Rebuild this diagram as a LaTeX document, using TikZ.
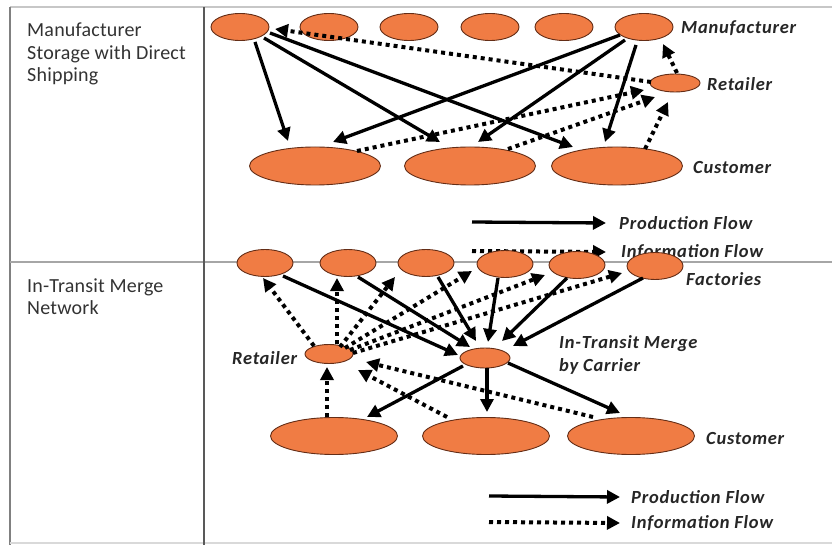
\documentclass[tikz,border=0pt]{standalone}
\usepackage{fontspec}
\setmainfont{Carlito}
\usetikzlibrary{shapes.geometric,arrows.meta}
\definecolor{orng}{RGB}{240,124,68}
\definecolor{brd}{RGB}{100,45,22}
\begin{document}
\begin{tikzpicture}[x=1pt,y=-1pt,
 blob/.style={ellipse, draw=brd, line width=0.9pt, fill=orng, inner sep=0pt},
 mfg/.style={blob, minimum width=58pt, minimum height=27pt},
 fac/.style={blob, minimum width=56pt, minimum height=27pt},
 cust/.style={blob, minimum width=131pt, minimum height=38pt},
 custb/.style={blob, minimum width=127pt, minimum height=37pt},
 smallblob/.style={blob, minimum width=50pt, minimum height=18pt},
 lbl/.style={font=\fontsize{18.5}{21}\selectfont\bfseries\itshape\addfontfeature{LetterSpace=4}, anchor=west, inner sep=0pt, text=black!85},
 side/.style={font=\fontsize{20}{22}\selectfont\addfontfeature{LetterSpace=1}, anchor=base west, inner sep=0pt, text=black!80},
 prod/.style={line width=3.3pt, -{Triangle[length=13pt,width=13pt]}},
 info/.style={line width=4pt, dash pattern=on 4pt off 4pt, -{Triangle[length=13pt,width=13pt]}},
 frame/.style={line width=1.2pt}
]
\useasboundingbox (0,0) rectangle (832,545);
\fill[white] (0,0) rectangle (832,545);
% frame
\draw[frame, black!22] (10,7) -- (832,7);
\draw[frame, black!50] (10,7) -- (10,545);
\draw[frame, black!35] (10,262) -- (832,262);
\draw[frame, black!15] (10,543) -- (832,543);
\draw[line width=1.8pt, black!65] (204,7) -- (204,545);
% side texts
\node[side] (s1) at (27,37) {Manufacturer};
\node[side] (s2) at (27,59.5) {Storage with Direct};
\node[side] (s3) at (27,82) {Shipping};
\node[side] (s4) at (27,292) {In-Transit Merge};
\node[side] (s5) at (27,314.5) {Network};

% ===== top section =====
\node[mfg] (m1) at (240,27) {};
\node[mfg] (m2) at (329,27) {};
\node[mfg] (m3) at (409,27) {};
\node[mfg] (m4) at (490,27) {};
\node[mfg] (m5) at (564,27) {};
\node[mfg] (m6) at (644,27) {};
\node[smallblob] (r) at (675,83) {};
\node[cust] (c1) at (315,166) {};
\node[cust] (c2) at (470,166) {};
\node[cust] (c3) at (617,166) {};
\node[lbl] (lm) at (681,28) {Manufacturer};
\node[lbl] (lr) at (707,84) {Retailer};
\node[lbl] (lc) at (693,168) {Customer};

\draw[prod] ([shift={(15,15)}]m1.center) -- ([shift={(-27,-25)}]c1.center);
\draw[prod] ([shift={(24,11)}]m1.center) -- ([shift={(-30,-24)}]c2.center);
\draw[prod] ([shift={(30,6)}]m1.center) -- ([shift={(-44,-19)}]c3.center);
\draw[prod] ([shift={(-24,8)}]m6.center) -- ([shift={(18,-24)}]c1.center);
\draw[prod] ([shift={(-19,13)}]m6.center) -- ([shift={(8,-24)}]c2.center);
\draw[prod] ([shift={(-8,18)}]m6.center) -- ([shift={(-12,-24)}]c3.center);
\draw[info] ([shift={(-24,-1)}]r.center) -- ([shift={(35,2)}]m1.center);
\draw[info] ([shift={(2,-10)}]r.center) -- ([shift={(19,17)}]m6.center);
\draw[info] ([shift={(42,-15)}]c1.center) -- ([shift={(-31,7)}]r.center);
\draw[info] ([shift={(38,-17)}]c2.center) -- ([shift={(-20,14)}]r.center);
\draw[info] ([shift={(28,-17)}]c3.center) -- ([shift={(-7,19)}]r.center);

% top legend
\node[lbl] (lp1) at (619,223) {Production Flow};
\node[lbl] (li1) at (621,252) {Information Flow};
\coordinate (lp1a) at (472,222);
\coordinate (li1a) at (472,251);
\draw[prod] (lp1a) -- ([xshift=-13pt]lp1.west);
\draw[info] (li1a) -- ([xshift=-15pt]li1.west);

% ===== bottom section =====
\node[fac] (f1) at (265,263) {};
\node[fac] (f2) at (348,263) {};
\node[fac] (f3) at (426,263) {};
\node[fac] (f4) at (505,264) {};
\node[fac] (f5) at (577,265) {};
\node[fac] (f6) at (655,266) {};
\node[smallblob, minimum width=48pt, minimum height=19pt] (rb) at (329,354) {};
\node[smallblob, minimum height=20pt] (mg) at (485,358) {};
\node[custb] (d1) at (334,436) {};
\node[custb] (d2) at (486,436) {};
\node[custb] (d3) at (631,436) {};
\node[lbl] (lf) at (686,279) {Factories};
\node[lbl] (lrb) at (232,358) {Retailer};
\node[lbl] (lmg1) at (559,344) {In-Transit Merge};
\node[lbl] (lmg2) at (559,366) {by Carrier};
\node[lbl] (ld) at (706,438) {Customer};

\draw[prod] ([shift={(18,13)}]f1.center) -- ([shift={(-27,-3)}]mg.center);
\draw[prod] ([shift={(10,14)}]f2.center) -- ([shift={(-15,-11)}]mg.center);
\draw[prod] ([shift={(12,14)}]f3.center) -- ([shift={(-9,-17)}]mg.center);
\draw[prod] ([shift={(-7,14)}]f4.center) -- ([shift={(3,-16)}]mg.center);
\draw[prod] ([shift={(-10,13)}]f5.center) -- ([shift={(17,-17)}]mg.center);
\draw[prod] ([shift={(-12,12)}]f6.center) -- ([shift={(28,-12)}]mg.center);
\draw[prod] ([shift={(-22,8)}]mg.center) -- ([shift={(33,-19)}]d1.center);
\draw[prod] ([shift={(2,10)}]mg.center) -- ([shift={(1,-24)}]d2.center);
\draw[prod] ([shift={(23,5)}]mg.center) -- ([shift={(-11,-23)}]d3.center);

\draw[info] ([shift={(-15,-8)}]rb.center) -- ([shift={(-2,15)}]f1.center);
\draw[info] ([shift={(8,-10)}]rb.center) -- ([shift={(-11,15)}]f2.center);
\draw[info] ([shift={(11,-7)}]rb.center) -- ([shift={(-31,14)}]f3.center);
\draw[info] ([shift={(16,-6)}]rb.center) -- ([shift={(-33,7)}]f4.center);
\draw[info] ([shift={(21,-4)}]rb.center) -- ([shift={(-32,10)}]f5.center);
\draw[info] ([shift={(24,-1)}]rb.center) -- ([shift={(-33,7)}]f6.center);
\draw[info] ([shift={(-7,-19)}]d1.center) -- ([shift={(-2,13)}]rb.center);
\draw[info] ([shift={(-39,-19)}]d2.center) -- ([shift={(29,16)}]rb.center);
\draw[info] ([shift={(-38,-19)}]d3.center) -- ([shift={(37,8)}]rb.center);

% bottom legend
\node[lbl] (lp2) at (631,497) {Production Flow};
\node[lbl] (li2) at (631,523) {Information Flow};
\coordinate (lp2a) at (489,496);
\coordinate (li2a) at (489,522);
\draw[prod] (lp2a) -- ([xshift=-11pt]lp2.west);
\draw[info] (li2a) -- ([xshift=-11pt]li2.west);
\end{tikzpicture}
\end{document}
